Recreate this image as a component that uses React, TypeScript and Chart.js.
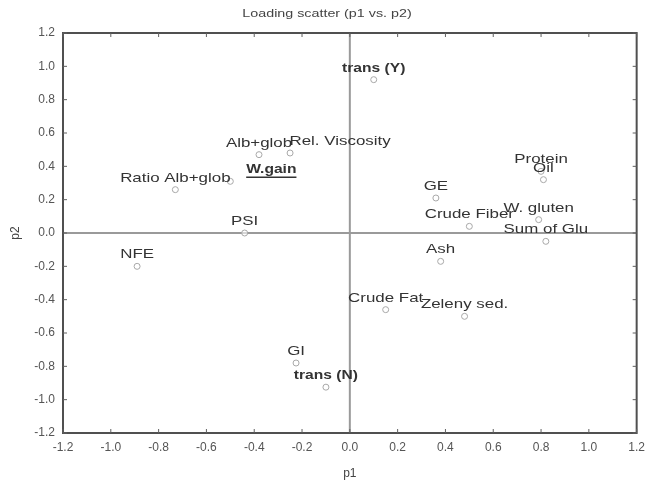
import React, { useEffect, useRef } from "react";
import { Chart, registerables } from "chart.js";

Chart.register(...registerables);

const names = [
  "trans (Y)", "Alb+glob", "Rel. Viscosity", "W.gain", "Ratio Alb+glob", "PSI", "NFE",
  "GE", "Crude Fiber", "W. gluten", "Sum of Glu", "Protein", "Oil", "Ash",
  "Crude Fat", "Zeleny sed.", "GI", "trans (N)",
];
const p1 = [0.10, -0.38, -0.25, -0.50, -0.73, -0.44, -0.89, 0.36, 0.50, 0.79, 0.82, 0.80, 0.81, 0.38, 0.15, 0.48, -0.225, -0.10];
const p2 = [0.92, 0.47, 0.48, 0.31, 0.26, 0.0, -0.20, 0.21, 0.04, 0.08, -0.05, 0.37, 0.32, -0.17, -0.46, -0.50, -0.78, -0.925];
const axisMin = -1.2;
const axisMax = 1.2;
const axisStep = 0.2;
const titleText = "Loading scatter (p1 vs. p2)";
const xTitle = "p1";
const yTitle = "p2";

const boldNames = ["trans (Y)", "trans (N)", "W.gain"];
const underlineNames = ["W.gain"];
const labelShift: Record<string, number> = { "Rel. Viscosity": 50, "W.gain": 41 };

const FONT = "'Liberation Sans', Arial, sans-serif";
const STRETCH = 1.3;
const fmt = (v: number) => (Math.abs(v) < 1e-9 ? "0.0" : v.toFixed(1));

function stretchedText(ctx: CanvasRenderingContext2D, text: string, x: number, y: number, sx: number) {
  ctx.save();
  ctx.translate(x, y);
  ctx.scale(sx, 1);
  ctx.fillText(text, 0, 0);
  ctx.restore();
}

const framePlugin = {
  id: "frame",
  beforeDatasetsDraw(chart: any) {
    const { ctx, chartArea: a, scales } = chart;
    const xs = scales.x, ys = scales.y;
    ctx.save();
    ctx.strokeStyle = "#9a9a9a";
    ctx.lineWidth = 2;
    const x0 = xs.getPixelForValue(0), y0 = ys.getPixelForValue(0);
    ctx.beginPath();
    ctx.moveTo(x0, a.top); ctx.lineTo(x0, a.bottom);
    ctx.moveTo(a.left, y0); ctx.lineTo(a.right, y0);
    ctx.stroke();
    ctx.strokeStyle = "#505050";
    ctx.lineWidth = 2;
    ctx.strokeRect(a.left, a.top, a.right - a.left, a.bottom - a.top);
    ctx.lineWidth = 1;
    ctx.strokeStyle = "#606060";
    ctx.beginPath();
    xs.ticks.forEach((t: any) => {
      const px = xs.getPixelForValue(t.value);
      ctx.moveTo(px, a.top); ctx.lineTo(px, a.top + 4);
      ctx.moveTo(px, a.bottom); ctx.lineTo(px, a.bottom - 4);
    });
    ys.ticks.forEach((t: any) => {
      const py = ys.getPixelForValue(t.value);
      ctx.moveTo(a.left, py); ctx.lineTo(a.left + 4, py);
      ctx.moveTo(a.right, py); ctx.lineTo(a.right - 4, py);
    });
    ctx.stroke();
    ctx.restore();
  },
  afterDatasetsDraw(chart: any) {
    const { ctx } = chart;
    const meta = chart.getDatasetMeta(0);
    ctx.save();
    ctx.fillStyle = "#333";
    ctx.textAlign = "center";
    ctx.textBaseline = "bottom";
    meta.data.forEach((pt: any, i: number) => {
      const name = names[i];
      const bold = boldNames.includes(name);
      ctx.font = `${bold ? "bold " : ""}13px ${FONT}`;
      const dx = labelShift[name] || 0;
      const x = pt.x + dx;
      const y = pt.y - 5;
      stretchedText(ctx, name, x, y, bold ? 1.2 : STRETCH);
      if (underlineNames.includes(name)) {
        const w = ctx.measureText(name).width * 1.2;
        ctx.strokeStyle = "#333";
        ctx.lineWidth = 1.5;
        ctx.beginPath();
        ctx.moveTo(x - w / 2, y + 1);
        ctx.lineTo(x + w / 2, y + 1);
        ctx.stroke();
      }
    });
    ctx.font = `11px ${FONT}`;
    ctx.fillStyle = "#444";
    ctx.textBaseline = "middle";
    stretchedText(ctx, titleText, 327, 14, 1.3);
    ctx.restore();
  },
};

export default function App() {
  const ref = useRef<HTMLCanvasElement>(null);
  useEffect(() => {
    if (!ref.current) return;
    const chart = new Chart(ref.current, {
      type: "scatter",
      data: {
        datasets: [
          {
            data: p1.map((x, i) => ({ x, y: p2[i] })),
            pointRadius: 3,
            pointBorderWidth: 1,
            pointBorderColor: "#a8a8a8",
            pointBackgroundColor: "rgba(255,255,255,0.6)",
          },
        ],
      },
      options: {
        animation: false,
        responsive: true,
        maintainAspectRatio: false,
        layout: { padding: { top: 33, right: 0, left: 0, bottom: 0 } },
        plugins: { legend: { display: false }, tooltip: { enabled: false }, title: { display: false } },
        scales: {
          x: {
            type: "linear",
            min: axisMin,
            max: axisMax,
            grid: { display: false, drawTicks: false },
            border: { display: false },
            ticks: { stepSize: axisStep, callback: (v: any) => fmt(Number(v)), color: "#555", font: { family: FONT, size: 12 }, padding: 7, maxRotation: 0 },
            title: { display: true, text: xTitle, color: "#444", font: { family: FONT, size: 12 }, padding: { top: 8 } },
            afterFit: (s: any) => { s.height = 52; },
          },
          y: {
            type: "linear",
            min: axisMin,
            max: axisMax,
            grid: { display: false, drawTicks: false },
            border: { display: false },
            ticks: { stepSize: axisStep, callback: (v: any) => fmt(Number(v)), color: "#555", font: { family: FONT, size: 12 }, padding: 8 },
            title: { display: true, text: yTitle, color: "#444", font: { family: FONT, size: 12 }, padding: { bottom: 0, top: 8 } },
            afterFit: (s: any) => { s.width = 63; },
          },
        },
      },
      plugins: [framePlugin],
    });
    return () => chart.destroy();
  }, []);
  return (
    <div style={{ position: "fixed", left: 0, top: 0, width: 646, height: 485, overflow: "hidden", background: "#fff" }}>
      <div style={{ position: "relative", width: 652, height: 485 }}>
        <canvas ref={ref} />
      </div>
    </div>
  );
}
